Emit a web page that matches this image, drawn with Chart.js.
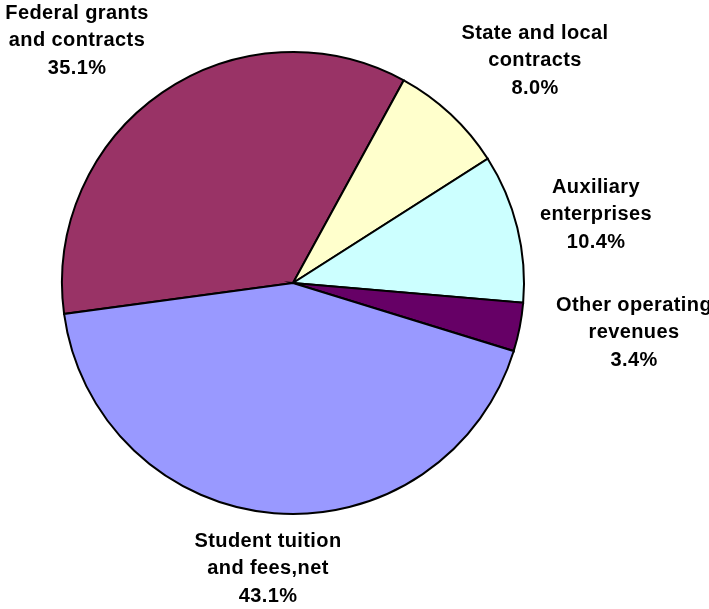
<!DOCTYPE html>
<html>
<head>
<meta charset="utf-8">
<script src="https://cdn.jsdelivr.net/npm/chart.js@4"></script>
<style>
  html, body { margin: 0; padding: 0; background: #ffffff; }
  #wrap { width: 709px; height: 609px; }
</style>
</head>
<body>
<div id="wrap"><canvas id="revenueChart" width="709" height="609"></canvas></div>
<script>
var categories = [
  ['Federal grants', 'and contracts'],
  ['State and local', 'contracts'],
  ['Auxiliary', 'enterprises'],
  ['Other operating', 'revenues'],
  ['Student tuition', 'and fees,net']
];
var shares = [35.1, 8.0, 10.4, 3.4, 43.1];
var sliceColors = ['#993366', '#ffffcc', '#ccffff', '#660066', '#9999ff'];

// label centres, offset from the pie centre (first line centre)
var labelOffsets = [[-216, -270], [242, -250], [303, -96], [341, 22], [-25, 258]];

var outsideLabels = {
  id: 'outsideLabels',
  afterDatasetsDraw: function(chart) {
    var ctx = chart.ctx;
    var arc = chart.getDatasetMeta(0).data[0];
    ctx.save();
    ctx.font = 'bold 20px "Liberation Sans", Arial, sans-serif';
    ctx.letterSpacing = '0.4px';
    ctx.fillStyle = '#000000';
    ctx.textAlign = 'center';
    ctx.textBaseline = 'middle';
    categories.forEach(function(lines, i) {
      var x = arc.x + labelOffsets[i][0];
      var y = arc.y + labelOffsets[i][1];
      var all = lines.concat([shares[i].toFixed(1) + '%']);
      all.forEach(function(t, j) {
        ctx.fillText(t, x, y + j * 27.5);
      });
    });
    ctx.restore();
  }
};

var ctx = document.getElementById('revenueChart').getContext('2d');
var revenueChart = new Chart(ctx, {
  type: 'pie',
  data: {
    labels: categories.map(function(l) { return l.join(' '); }),
    datasets: [{
      data: shares,
      backgroundColor: sliceColors,
      borderColor: '#000000',
      borderWidth: 2,
      borderJoinStyle: 'miter'
    }]
  },
  options: {
    responsive: false,
    animation: false,
    rotation: 262.3,
    radius: 231,
    layout: { padding: { left: 0, right: 123, top: 0, bottom: 43 } },
    plugins: {
      legend: { display: false },
      tooltip: { enabled: false }
    }
  },
  plugins: [outsideLabels]
});
</script>
</body>
</html>
